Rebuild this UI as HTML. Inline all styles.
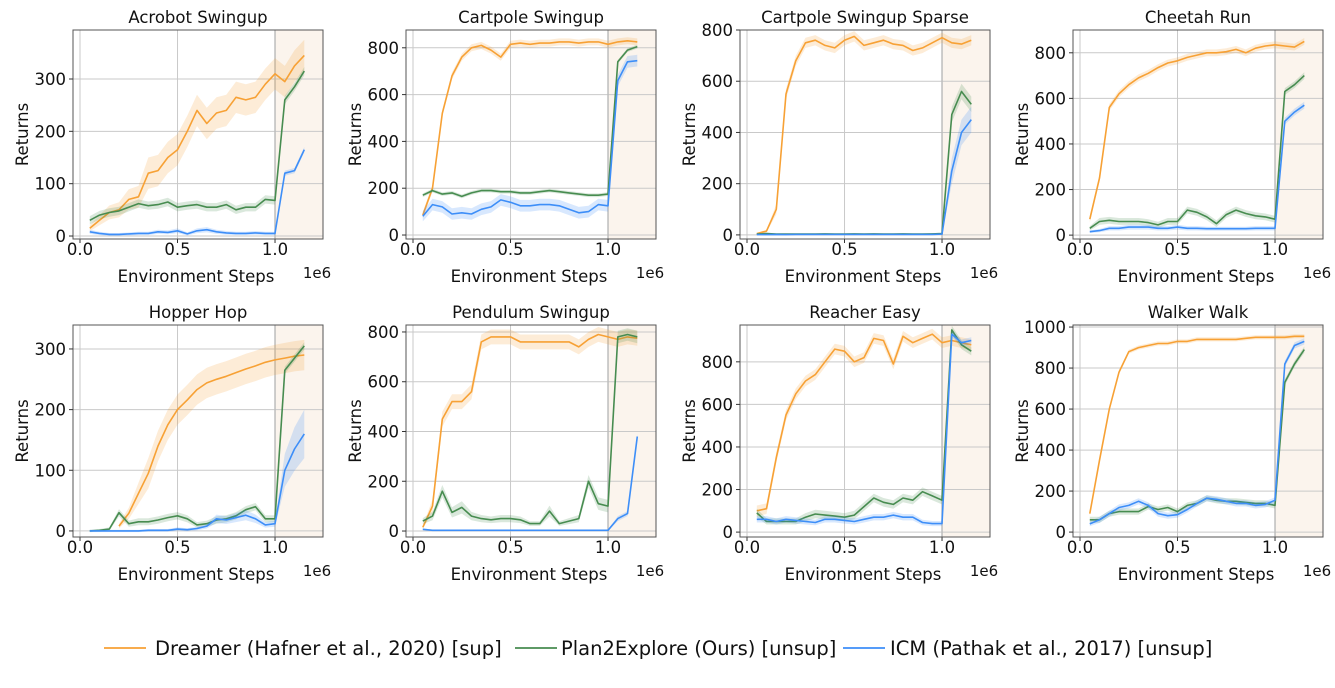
<!DOCTYPE html>
<html><head><meta charset="utf-8">
<style>
html,body{margin:0;padding:0;background:#fff;}
svg{display:block;font-family:"DejaVu Sans","Liberation Sans",sans-serif;}
</style></head>
<body>
<svg id="fig" width="1335" height="688" viewBox="0 0 1335 688"></svg>
<script>
// ---- data (x in units of 1e6 env steps) ----
const steps = [0.05,0.10,0.15,0.20,0.25,0.30,0.35,0.40,0.45,0.50,0.55,0.60,0.65,0.70,0.75,0.80,0.85,0.90,0.95,1.00,1.05,1.10,1.15];
const acrobotDreamer = [15,30,45,50,70,75,120,125,150,165,200,240,215,235,240,265,260,265,290,310,295,325,345];
const acrobotP2E = [30,40,45,48,55,62,58,60,65,55,58,60,55,55,60,50,55,55,70,68,260,285,315];
const acrobotICM = [8,5,3,3,4,5,5,8,7,10,4,10,12,8,6,5,5,6,5,5,120,125,165];
const cartpoleDreamer = [85,200,520,680,760,800,810,790,760,815,820,815,820,820,825,825,820,825,825,815,825,830,825];
const cartpoleP2E = [170,190,175,180,165,180,190,190,185,185,180,180,185,190,185,180,175,170,170,175,740,790,805];
const cartpoleICM = [80,130,120,90,95,90,110,120,150,140,125,125,130,130,125,110,95,100,130,125,660,740,745];
const sparseDreamer = [5,15,100,550,680,750,760,740,730,760,775,740,750,760,745,740,720,730,750,770,750,745,760];
const sparseP2E = [3,5,3,3,3,3,3,4,3,3,4,3,4,3,3,4,3,3,4,5,470,560,510];
const sparseICM = [1,1,2,1,2,2,2,2,2,2,2,2,2,2,2,2,2,2,2,3,250,400,450];
const cheetahDreamer = [70,250,560,620,660,690,710,735,755,765,780,790,800,800,805,815,800,820,830,835,830,825,850];
const cheetahP2E = [30,60,65,60,60,60,55,45,60,60,110,100,80,50,90,110,95,85,80,70,630,660,700];
const cheetahICM = [15,20,30,30,35,35,35,30,30,35,30,30,28,28,28,28,28,30,30,30,500,540,570];
const hopperDreamer = [null,null,null,8,29,62,95,140,175,200,216,233,244,250,255,261,267,272,278,282,285,288,290];
const hopperP2E = [0,1,3,30,12,15,15,18,22,25,20,10,12,18,20,25,35,40,20,20,265,285,305];
const hopperICM = [0,0,0,0,0,0,1,1,1,3,2,4,8,20,18,22,26,20,10,12,100,135,160];
const pendulumDreamer = [15,100,450,520,520,560,760,780,780,780,760,760,760,760,760,760,740,770,790,780,770,780,775];
const pendulumP2E = [40,60,160,75,95,60,50,45,50,50,45,30,30,80,30,40,50,200,110,100,780,790,780];
const pendulumICM = [7,3,3,3,3,3,3,3,3,3,3,3,3,3,3,3,3,3,3,3,50,70,380];
const reacherDreamer = [100,110,350,550,650,710,740,800,860,850,800,820,910,900,790,920,890,910,930,890,900,890,880];
const reacherP2E = [90,50,50,50,50,70,85,80,75,70,80,120,160,140,130,160,150,190,170,150,950,880,850];
const reacherICM = [60,60,50,60,55,50,45,60,60,55,50,60,70,70,80,70,70,45,40,40,930,890,900];
const walkerDreamer = [90,350,600,780,880,900,910,920,920,930,930,940,940,940,940,940,945,950,950,950,950,955,955];
const walkerP2E = [60,60,90,100,100,100,125,110,120,100,130,140,165,155,150,150,145,140,140,130,730,820,890];
const walkerICM = [40,60,90,120,130,150,130,90,80,85,110,140,165,160,150,140,140,130,135,155,820,910,930];
const titles = ["Acrobot Swingup","Cartpole Swingup","Cartpole Swingup Sparse","Cheetah Run","Hopper Hop","Pendulum Swingup","Reacher Easy","Walker Walk"];
const yTicks = [[0,100,200,300],[0,200,400,600,800],[0,200,400,600,800],[0,200,400,600,800],[0,100,200,300],[0,200,400,600,800],[0,200,400,600,800],[0,200,400,600,800,1000]];
const yLims = [[-5.7,393.6],[-17,876],[-16,800],[-17,900],[-10,339.5],[-24,828],[-23,973],[-24,1010]];
const xTicks = [0,0.5,1.0];
const xTickLabels = ["0.0","0.5","1.0"];
const bandWidths = [[30,8,5],[15,8,25],[20,30,50],[15,15,15],[25,6,40],[30,25,10],[25,20,15],[10,15,15]];
const seriesData = [
 [acrobotDreamer,acrobotP2E,acrobotICM],[cartpoleDreamer,cartpoleP2E,cartpoleICM],
 [sparseDreamer,sparseP2E,sparseICM],[cheetahDreamer,cheetahP2E,cheetahICM],
 [hopperDreamer,hopperP2E,hopperICM],[pendulumDreamer,pendulumP2E,pendulumICM],
 [reacherDreamer,reacherP2E,reacherICM],[walkerDreamer,walkerP2E,walkerICM]];
const seriesNames = ["dreamer","plan2explore","icm"];
const colors = ["#f7a135","#478c50","#3d8ef8"];
const legendLabels = ["Dreamer (Hafner et al., 2020) [sup]","Plan2Explore (Ours) [unsup]","ICM (Pathak et al., 2017) [unsup]"];

const NS="http://www.w3.org/2000/svg";
const svg=document.getElementById('fig');
function mk(tag,attrs,parent){const e=document.createElementNS(NS,tag);for(const k in attrs)e.setAttribute(k,attrs[k]);(parent||svg).appendChild(e);return e;}
const colLeft=[73,406,740,1073], rowTop=[30,325], rowBot=[239,537], W=250;
const xLim=[-0.0359,1.246];

for(let p=0;p<8;p++){
  const col=p%4,row=Math.floor(p/4);
  const L=colLeft[col],R=L+W,T=rowTop[row],B=rowBot[row];
  const g=mk('g',{});
  
  
  const xs=v=>L+(v-xLim[0])/(xLim[1]-xLim[0])*W;
  const ys=v=>B-(v-yLims[p][0])/(yLims[p][1]-yLims[p][0])*(B-T);
  const sh=mk('rect',{x:xs(1.0),y:T,width:R-xs(1.0),height:B-T,fill:"#fbf4ed"},g);
  
  
  yTicks[p].forEach(t=>{mk('line',{x1:L,x2:R,y1:ys(t),y2:ys(t),stroke:"#c9c9c9","stroke-width":1},g);
    const lb=mk('text',{x:L-7,y:ys(t)+6,"text-anchor":"end","font-size":16.5,fill:"#111"},g);lb.textContent=t;
    
    });
  xTicks.forEach((t,i)=>{mk('line',{x1:xs(t),x2:xs(t),y1:T,y2:B,stroke:i==2?"#bdbdbd":"#c9c9c9","stroke-width":i==2?1.5:1},g);
    mk('line',{x1:xs(t),x2:xs(t),y1:B,y2:B+4,stroke:"#333","stroke-width":1},g);
    const lb=mk('text',{x:xs(t),y:B+16,"text-anchor":"middle","font-size":16.5,fill:"#111"},g);lb.textContent=xTickLabels[i];
    
    });
  for(let s=0;s<3;s++){
    const d=seriesData[p][s],bw=bandWidths[p][s];
    const pts=[];for(let i=0;i<steps.length;i++)if(d[i]!==null)pts.push([steps[i],d[i]]);
    const hw=v=>Math.min(bw,Math.abs(v)*0.25+2);
    const up=pts.map(q=>xs(q[0]).toFixed(1)+","+ys(q[1]+hw(q[1])).toFixed(1));
    const dn=pts.slice().reverse().map(q=>xs(q[0]).toFixed(1)+","+ys(q[1]-hw(q[1])).toFixed(1));
    const band=mk('polygon',{points:up.concat(dn).join(" "),fill:colors[s],"fill-opacity":0.2},g);
    
    
    const ln=mk('polyline',{points:pts.map(q=>xs(q[0]).toFixed(1)+","+ys(q[1]).toFixed(1)).join(" "),fill:"none",stroke:colors[s],"stroke-width":1.6,"stroke-linejoin":"round"},g);
    
    
  }
  mk('rect',{x:L,y:T,width:W,height:B-T,fill:"none",stroke:"#555","stroke-width":1},g);
  yTicks[p].forEach(t=>mk('line',{x1:L-4,x2:L,y1:ys(t),y2:ys(t),stroke:"#333"},g));
  const tt=mk('text',{x:(L+R)/2,y:T-7,"text-anchor":"middle","font-size":16.5,fill:"#111"},g);tt.textContent=titles[p];
  
  
  const xl=mk('text',{x:(L+R)/2-2,y:B+43,"text-anchor":"middle","font-size":16.5,fill:"#111"},g);xl.textContent="Environment Steps";
  
  
  const off=mk('text',{x:R-6,y:B+39,"text-anchor":"middle","font-size":15,fill:"#111"},g);off.textContent="1e6";
  
  
  const yl=mk('text',{x:L-45,y:(T+B)/2,"text-anchor":"middle","font-size":16.5,fill:"#111",transform:`rotate(-90 ${L-45} ${(T+B)/2})`},g);yl.textContent="Returns";
  
  
}
const legX=[104,515,843], legTX=[155,561,890];
for(let s=0;s<3;s++){
  const lg=mk('g',{});
  
  
  mk('line',{x1:legX[s],x2:legX[s]+42,y1:648,y2:648,stroke:colors[s],"stroke-width":1.8},lg);
  const t=mk('text',{x:legTX[s],y:655,"font-size":19.5,fill:"#111"},lg);t.textContent=legendLabels[s];
}
</script>
</body></html>
